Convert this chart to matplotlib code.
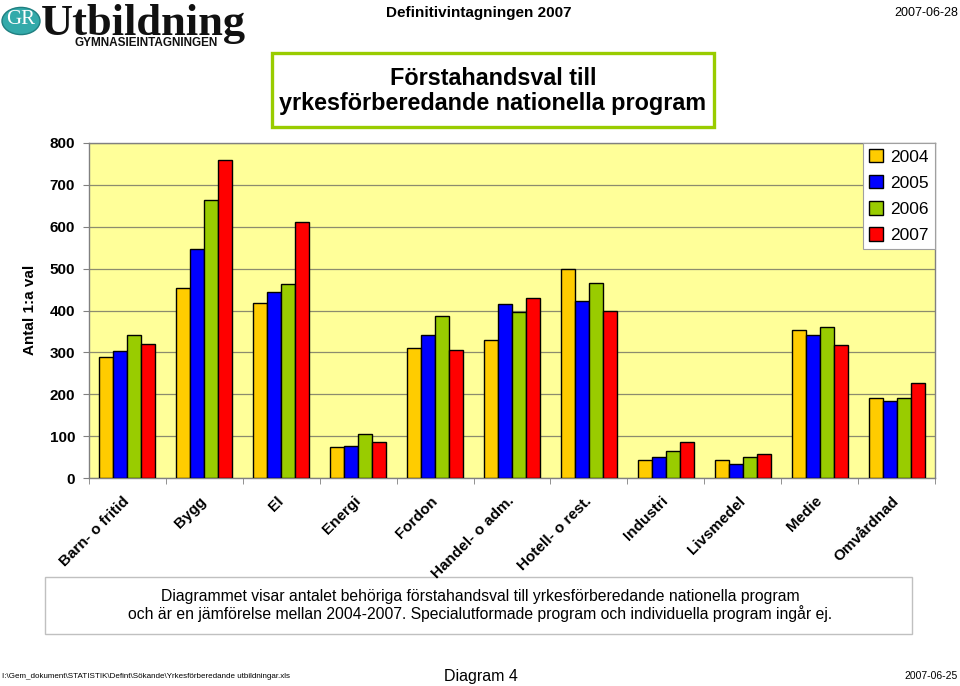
import numpy as np
import matplotlib
matplotlib.use("Agg")
import matplotlib.pyplot as plt
from matplotlib.patches import Rectangle, Circle, Patch

plt.rcParams['font.family'] = ['Liberation Sans', 'DejaVu Sans']

categories = ["Barn- o fritid", "Bygg", "El", "Energi", "Fordon", "Handel- o adm.",
              "Hotell- o rest.", "Industri", "Livsmedel", "Medie", "Omvårdnad"]
years = ["2004", "2005", "2006", "2007"]
v2004 = [289, 454, 417, 73, 310, 329, 499, 42, 42, 354, 190]
v2005 = [303, 548, 443, 76, 341, 415, 423, 49, 33, 341, 183]
v2006 = [341, 665, 463, 106, 387, 396, 466, 64, 49, 360, 190]
v2007 = [320, 759, 612, 85, 305, 429, 399, 85, 57, 318, 228]
series = [v2004, v2005, v2006, v2007]
colors = ["#FFCC00", "#0000FF", "#99CC00", "#FF0000"]
yticks = [0, 100, 200, 300, 400, 500, 600, 700, 800]

W, H = 960, 686
fig = plt.figure(figsize=(9.6, 6.86), dpi=100)
fig.patch.set_facecolor("white")

def fx(px):
    return px / W

def fy(py):
    return 1 - py / H

ax = fig.add_axes([fx(89), fy(478), fx(935) - fx(89), fy(143) - fy(478)])
ax.set_facecolor("#FFFF99")
ax.set_zorder(2)

x = np.arange(len(categories))
bw = 0.182
for i, (vals, c) in enumerate(zip(series, colors)):
    ax.bar(x + (i - 1.5) * bw, vals, width=bw, color=c, edgecolor="black",
           linewidth=1.0, label=years[i], zorder=3)

ax.set_xlim(-0.5, len(categories) - 0.5)
ax.set_ylim(0, 800)
ax.set_yticks(yticks)
ax.set_yticklabels([str(t) for t in yticks], fontsize=11, fontweight="bold")
ax.yaxis.grid(True, color="#8C8C6E", linewidth=0.9, zorder=0)
ax.set_axisbelow(True)

ax.set_xticks(x)
ax.set_xticklabels(categories, rotation=45, ha="right", va="center",
                   rotation_mode="anchor", fontsize=11, fontweight="bold")
ax.tick_params(axis="x", which="major", length=0, pad=15)
ax.set_xticks(np.arange(-0.5, len(categories), 1.0), minor=True)
ax.tick_params(axis="x", which="minor", length=4, color="#808080")
ax.tick_params(axis="y", length=4, color="#808080", pad=6)
for s in ax.spines.values():
    s.set_color("#808080")
    s.set_linewidth(1.0)

handles = [Patch(facecolor=c, edgecolor="black", label=y) for c, y in zip(colors, years)]
leg = ax.legend(handles=handles, loc="upper right", fontsize=12.5, frameon=True,
                fancybox=False, edgecolor="#A0A0A0", facecolor="white", framealpha=1,
                handlelength=0.8, handleheight=0.8, handletextpad=0.4,
                labelspacing=0.6, borderpad=0.35, borderaxespad=0.0)
leg.get_frame().set_linewidth(0.8)

fig.text(fx(30), fy(310), "Antal 1:a val", rotation=90, ha="center", va="center",
         fontsize=11, fontweight="bold")

# Title box
fig.patches.append(Rectangle((fx(272), fy(127)), fx(714) - fx(272), fy(53) - fy(127),
                             transform=fig.transFigure, facecolor="white",
                             edgecolor="#99CC00", linewidth=2.4, zorder=1))
fig.text(fx(493), fy(91), "Förstahandsval till\nyrkesförberedande nationella program",
         ha="center", va="center", fontsize=16.8, fontweight="bold",
         linespacing=1.15, zorder=3)

# Header
fig.text(fx(479), fy(13), "Definitivintagningen 2007", ha="center", va="center",
         fontsize=11, fontweight="bold", color="black")
fig.text(fx(958), fy(13), "2007-06-28", ha="right", va="center", fontsize=9, color="black")

# Logo
fig.patches.append(Circle((fx(21), fy(21)), 19 / W, transform=fig.transFigure,
                          facecolor="#33AAAA", edgecolor="#1F7F80", linewidth=1, zorder=1))
fig.text(fx(21), fy(20), "GR", ha="center", va="center", fontsize=15,
         family="Liberation Serif", color="white", zorder=3)
fig.text(fx(41), fy(35), "Utbildning", ha="left", va="baseline", fontsize=32,
         family="Liberation Serif", fontweight="bold", color="#111111")
fig.text(fx(146), fy(43), "GYMNASIEINTAGNINGEN", ha="center", va="center", fontsize=8.5,
         fontweight="bold", color="#111111")

# Caption box (drawn beneath the axes so rotated tick labels stay visible)
fig.patches.append(Rectangle((fx(45), fy(634)), fx(912) - fx(45), fy(577) - fy(634),
                             transform=fig.transFigure, facecolor="white",
                             edgecolor="#C0C0C0", linewidth=1.0, zorder=1))
fig.text(fx(480), fy(596), "Diagrammet visar antalet behöriga förstahandsval till yrkesförberedande nationella program",
         ha="center", va="center", fontsize=11.3, zorder=3)
fig.text(fx(480), fy(614), "och är en jämförelse mellan 2004-2007. Specialutformade program och individuella program ingår ej.",
         ha="center", va="center", fontsize=11.3, zorder=3)

# Footer
fig.text(fx(2), fy(676), "I:\\Gem_dokument\\STATISTIK\\Defint\\Sökande\\Yrkesförberedande utbildningar.xls",
         ha="left", va="center", fontsize=5.8)
fig.text(fx(481), fy(676), "Diagram 4", ha="center", va="center", fontsize=11.5)
fig.text(fx(958), fy(676), "2007-06-25", ha="right", va="center", fontsize=7.5)

fig.savefig("out.png", dpi=100, facecolor="white")
